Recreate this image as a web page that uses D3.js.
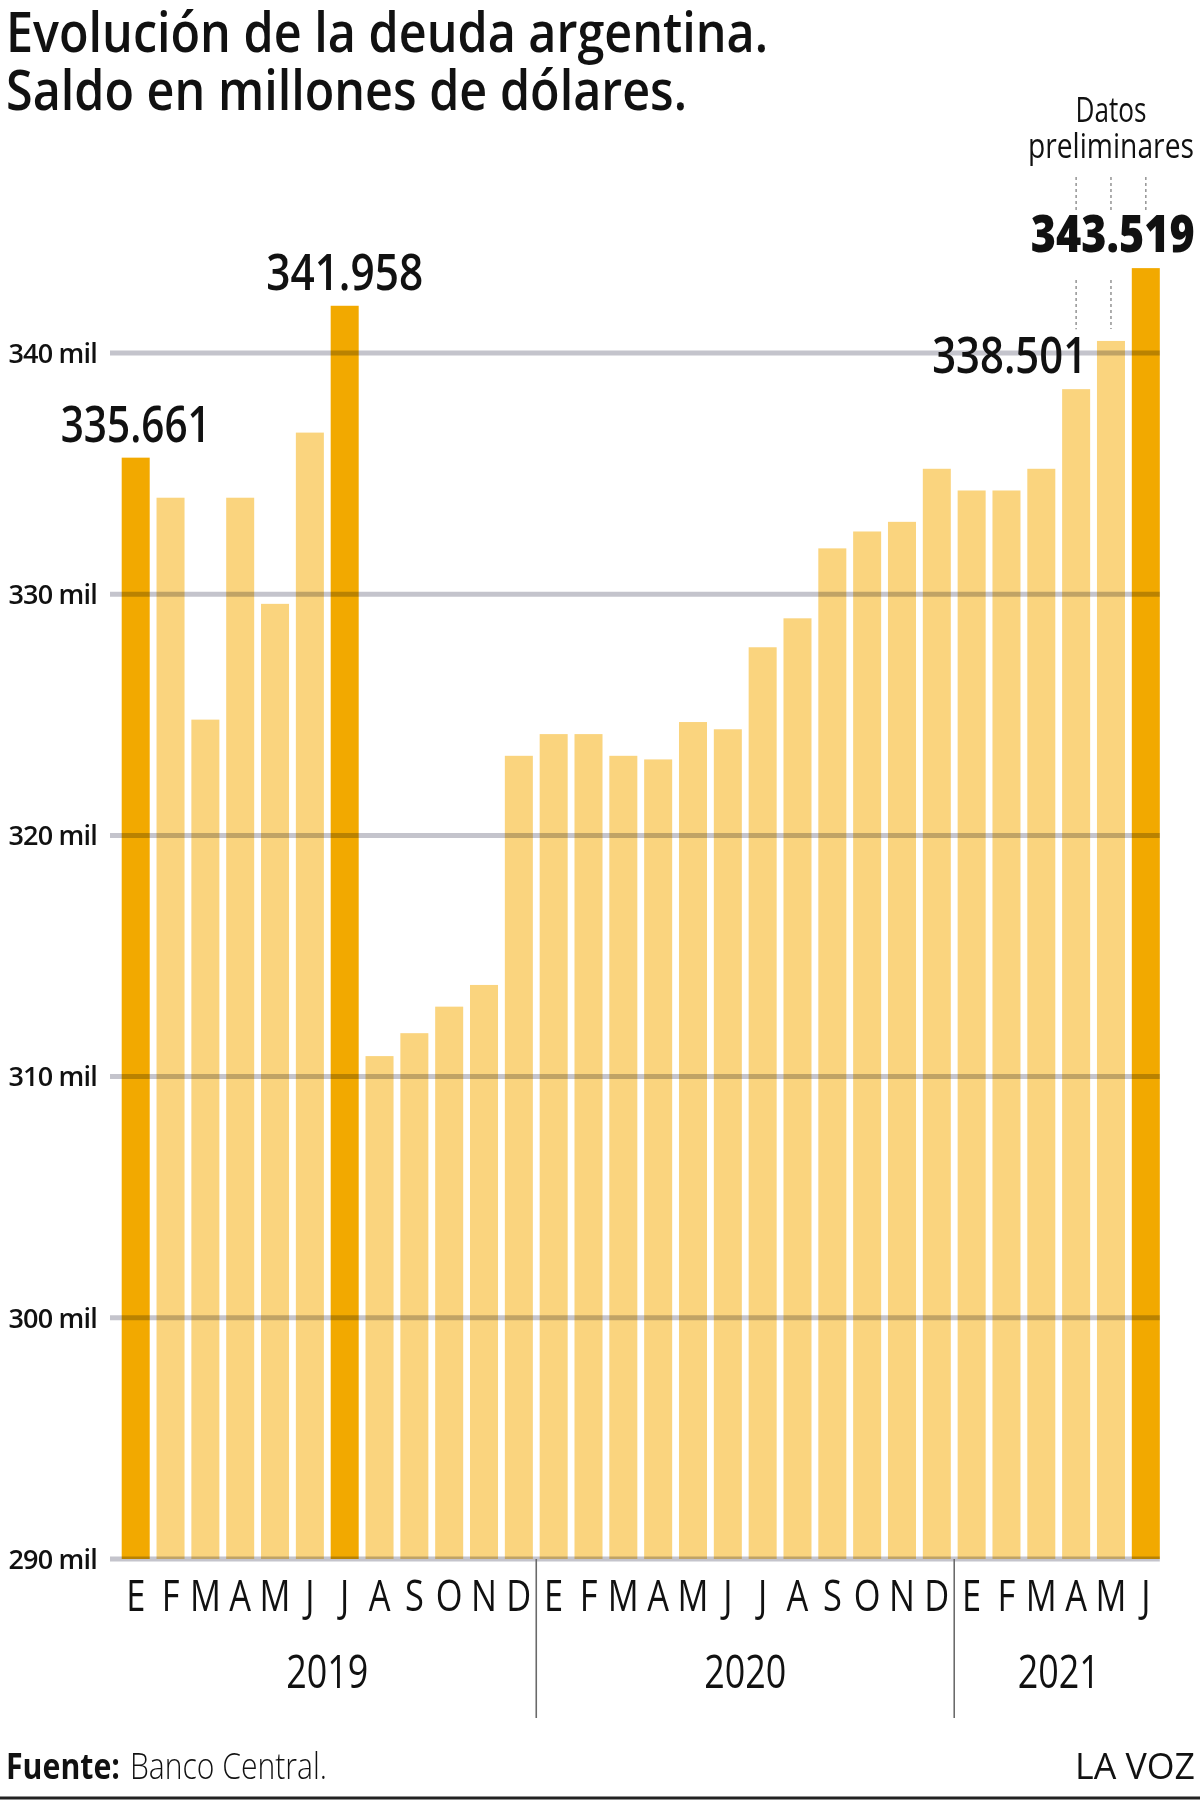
<!DOCTYPE html>
<html>
<head>
<meta charset="utf-8">
<script src="https://cdn.jsdelivr.net/npm/d3@7"></script>
<style>
  html, body { margin: 0; padding: 0; background: #fff; }
  svg { display: block; }
  text { font-family: "Open Sans", "Noto Sans", "DejaVu Sans", sans-serif; fill: #111; }
</style>
</head>
<body>
<script>
// ---------------- DATA ----------------
const months = ["E","F","M","A","M","J","J","A","S","O","N","D",
                "E","F","M","A","M","J","J","A","S","O","N","D",
                "E","F","M","A","M","J"];
const yearLabels = ["2019", "2020", "2021"];
const yearCounts = [12, 12, 6];
// saldo en miles de millones (millones de dólares / 1000)
const values = [335.661, 334.0, 324.8, 334.0, 329.6, 336.7, 341.958, 310.85, 311.8, 312.9, 313.8, 323.3,
                324.2, 324.2, 323.3, 323.15, 324.7, 324.4, 327.8, 329.0, 331.9, 332.6, 333.0, 335.2,
                334.3, 334.3, 335.2, 338.501, 340.5, 343.519];
const highlighted = [0, 6, 29];
const labeledBars = [0, 6, 27, 29];
const preliminaryBars = [27, 28, 29];
const yTicks = [290, 300, 310, 320, 330, 340];
const titleLines = ["Evolución de la deuda argentina.", "Saldo en millones de dólares."];
const noteLines = ["Datos", "preliminares"];

// ---------------- LAYOUT ----------------
const W = 1200, H = 1811;
const svg = d3.select("body").append("svg").attr("width", W).attr("height", H);
svg.append("rect").attr("width", W).attr("height", H).attr("fill", "#fff");

const keys = d3.range(values.length);
const x = d3.scaleBand().domain(keys).range([121.7, 1159.8]).paddingInner(0.196).paddingOuter(0);
const y = d3.scaleLinear().domain([290, 340]).range([1559, 353]);
const gridX0 = 110, gridX1 = x.range()[1];

const DARK = "#F2A900", LIGHT = "#FAD47E";

// title
titleLines.forEach((t, i) => {
  svg.append("text").attr("x", 6).attr("y", 52 + i * 58)
    .attr("font-size", 56).attr("font-weight", 650)
    .attr("textLength", i === 0 ? 762 : 681).attr("lengthAdjust", "spacingAndGlyphs")
    .text(t);
});

// bars
svg.append("g").selectAll("rect").data(keys).join("rect")
  .attr("x", d => x(d)).attr("width", x.bandwidth())
  .attr("y", d => y(values[d])).attr("height", d => y(290) - y(values[d]))
  .attr("fill", d => highlighted.includes(d) ? DARK : LIGHT);

// gridlines (multiply over bars)
const grid = svg.append("g").style("mix-blend-mode", "multiply");
grid.selectAll("line").data(yTicks).join("line")
  .attr("x1", gridX0).attr("x2", gridX1)
  .attr("y1", d => y(d)).attr("y2", d => y(d))
  .attr("stroke", "#C4C4CC").attr("stroke-width", 5);

// y tick labels
svg.append("g").selectAll("text").data(yTicks).join("text")
  .attr("x", 97).attr("y", d => y(d)).attr("dy", "0.36em")
  .attr("text-anchor", "end").attr("font-size", 27).attr("font-weight", 600)
  .attr("letter-spacing", -0.8)
  .text(d => `${d} mil`);

// month labels
svg.append("g").selectAll("text").data(keys).join("text")
  .attr("transform", d => `translate(${x(d) + x.bandwidth() / 2},1611) scale(0.8,1)`)
  .attr("text-anchor", "middle").attr("font-size", 43)
  .text(d => months[d]);

// year labels and separators
let start = 0;
const gap = x.step() - x.bandwidth();
yearLabels.forEach((yl, i) => {
  const end = start + yearCounts[i] - 1;
  const cx = (x(start) + x(end) + x.bandwidth()) / 2;
  svg.append("text")
    .attr("transform", `translate(${cx},1688) scale(0.78,1)`)
    .attr("text-anchor", "middle").attr("font-size", 46)
    .text(yl);
  if (i > 0) {
    const sx = x(start) - gap / 2;
    svg.append("line").attr("x1", sx).attr("x2", sx).attr("y1", y(290)).attr("y2", 1718)
      .attr("stroke", "#6a6a6a").attr("stroke-width", 1.6);
  }
  start += yearCounts[i];
});

// value labels
const fmt = d3.formatLocale({decimal: ",", thousands: ".", grouping: [3], currency: ["$", ""]}).format(",");
const labelSpec = {
  0:  {anchor: "middle", pos: d => x(d) + x.bandwidth() / 2, len: 150, bold: false},
  6:  {anchor: "middle", pos: d => x(d) + x.bandwidth() / 2, len: 157, bold: false},
  27: {anchor: "end",    pos: d => x(d) + x.bandwidth() - 3, len: 155, bold: false},
  29: {anchor: "end",    pos: d => x(d) + x.bandwidth() + 35, len: 164, bold: true}
};
const LABEL_GAP = 16, LABEL_H = 36;
labeledBars.forEach(d => {
  const s = labelSpec[d];
  svg.append("text")
    .attr("x", s.pos(d)).attr("y", y(values[d]) - LABEL_GAP)
    .attr("text-anchor", s.anchor).attr("font-size", 51)
    .attr("font-weight", s.bold ? 800 : 600)
    .attr("textLength", s.len).attr("lengthAdjust", "spacingAndGlyphs")
    .text(fmt(Math.round(values[d] * 1000)));
});

// preliminary note
const noteCx = x(preliminaryBars[1]) + x.bandwidth() / 2;
noteLines.forEach((t, i) => {
  svg.append("text").attr("x", noteCx).attr("y", i === 0 ? 122 : 158)
    .attr("text-anchor", "middle").attr("font-size", 34).attr("font-weight", 400)
    .attr("textLength", i === 0 ? 71 : 166).attr("lengthAdjust", "spacingAndGlyphs")
    .attr("fill", "#222")
    .text(t);
});
const dots = svg.append("g").attr("stroke", "#9a9a9a").attr("stroke-width", 1.6).attr("stroke-dasharray", "3,3");
preliminaryBars.forEach(d => {
  const cx = x(d) + x.bandwidth() / 2;
  dots.append("line").attr("x1", cx).attr("x2", cx).attr("y1", 177).attr("y2", 213);
  let bottom = y(values[d]) - 12;
  if (labeledBars.includes(d)) bottom = y(values[d]) - LABEL_GAP - LABEL_H - 8;
  if (bottom > 282) {
    dots.append("line").attr("x1", cx).attr("x2", cx).attr("y1", 280).attr("y2", bottom);
  }
});

// footer
const foot = svg.append("text").attr("x", 6).attr("y", 1779).attr("font-size", 36);
foot.append("tspan").attr("font-weight", 700).attr("textLength", 114).attr("lengthAdjust", "spacingAndGlyphs").text("Fuente:");
foot.append("tspan").attr("x", 130).attr("font-weight", 300).attr("textLength", 197).attr("lengthAdjust", "spacingAndGlyphs").text("Banco Central.");
svg.append("text").attr("x", 1195).attr("y", 1779).attr("text-anchor", "end")
  .attr("font-size", 36).attr("textLength", 120).attr("lengthAdjust", "spacingAndGlyphs").text("LA VOZ");
svg.append("line").attr("x1", 0).attr("x2", W).attr("y1", 1798).attr("y2", 1798)
  .attr("stroke", "#222").attr("stroke-width", 3);
</script>
</body>
</html>
